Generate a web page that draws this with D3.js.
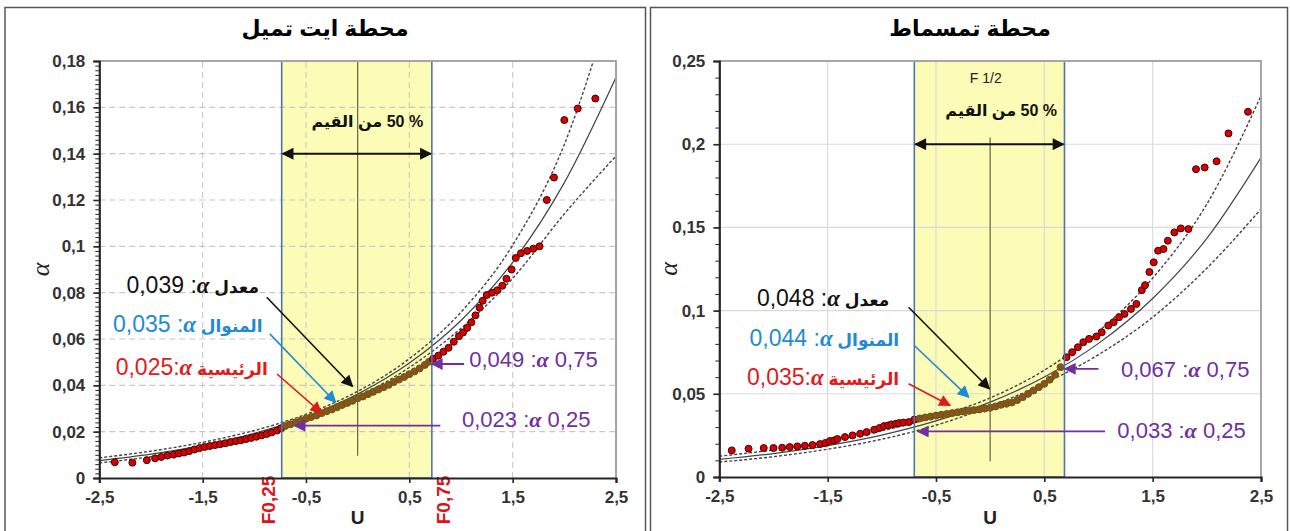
<!DOCTYPE html>
<html><head><meta charset="utf-8">
<script src="https://cdn.jsdelivr.net/npm/d3@7"></script>
<style>body{margin:0;background:#fff;} svg{display:block;}</style>
</head><body>
<svg id="c" width="1290" height="531"></svg>
<script>
// ---------------- data ----------------
const xTickValues = [-2.5,-1.5,-0.5,0.5,1.5,2.5];
const xTickLabels = ["-2,5","-1,5","-0,5","0,5","1,5","2,5"];
const leftYTickValues = [0,0.02,0.04,0.06,0.08,0.1,0.12,0.14,0.16,0.18];
const leftYTickLabels = ["0","0,02","0,04","0,06","0,08","0,1","0,12","0,14","0,16","0,18"];
const rightYTickValues = [0,0.05,0.1,0.15,0.2,0.25];
const rightYTickLabels = ["0","0,05","0,1","0,15","0,2","0,25"];

const leftTitle = "محطة ايت تميل";
const rightTitle = "محطة تمسماط";

const curveU = [-2.5,-2,-1.5,-1,-0.5,0,0.5,1,1.5,2,2.5];
const leftFit   = [.0075,.0103,.0141,.0193,.0264,.0362,.0496,.0680,.0931,.1275,.1730];
const leftUpper = [.0087,.0116,.0154,.0205,.0275,.0374,.0515,.0716,.1005,.1440,.2120];
const leftLower = [.0065,.0092,.0129,.0181,.0254,.0350,.0477,.0646,.0862,.1140,.1390];
const rightFit   = [.0106,.0141,.0189,.0252,.0337,.0450,.0601,.0803,.1073,.1434,.1920];
const rightUpper = [.0125,.0163,.0213,.0278,.0362,.0475,.0642,.0875,.1195,.1640,.2290];
const rightLower = [.0090,.0122,.0167,.0227,.0311,.0425,.0562,.0735,.0960,.1255,.1610];

const leftPoints = [
[-2.35,.0068],[-2.18,.0066],[-2.04,.0077],[-1.96,.0085],[-1.9,.0091],[-1.84,.0097],[-1.78,.0101],[-1.73,.0106],
[-1.68,.0110],[-1.63,.0116],[-1.58,.0123],[-1.53,.0129],[-1.48,.0134],[-1.43,.0138],[-1.38,.0142],[-1.33,.0146],
[-1.28,.0150],[-1.23,.0155],[-1.18,.0159],[-1.13,.0163],[-1.08,.0168],[-1.03,.0173],[-0.98,.0178],[-0.93,.0184],
[-0.88,.0190],[-0.83,.0197],[-0.78,.0205],[-0.74,.0215],
[-0.70,.0225],[-0.65,.0232],[-0.60,.0240],[-0.55,.0248],[-0.50,.0256],[-0.45,.0263],[-0.40,.0270],[-0.35,.0280],
[-0.30,.0288],[-0.25,.0296],[-0.20,.0305],[-0.15,.0315],[-0.10,.0324],[-0.05,.0333],[0,.0344],[0.05,.0352],
[0.10,.0362],[0.15,.0372],[0.20,.0382],[0.25,.0392],[0.30,.0402],[0.35,.0414],[0.40,.0425],[0.45,.0436],
[0.50,.0448],[0.55,.0460],[0.60,.0473],[0.65,.0488],[0.69,.0502],
[0.73,.0515],[0.78,.0528],[0.83,.0545],[0.88,.0562],[0.93,.0588],[0.98,.0612],[1.02,.0628],[1.06,.0648],
[1.10,.0672],[1.14,.0702],[1.18,.0735],[1.21,.0765],[1.25,.0790],[1.30,.0800],[1.35,.0810],[1.40,.0830],
[1.44,.0860],[1.49,.0900],[1.53,.0950],[1.58,.0970],[1.64,.0980],[1.70,.0990],[1.76,.1000],[1.83,.1200],
[1.90,.1297],[2.00,.1545],[2.13,.1595],[2.30,.1638]
];
const rightPoints = [
[-2.385,.0160],[-2.23,.0170],[-2.09,.0174],[-2.0,.0174],[-1.92,.0176],[-1.85,.0180],[-1.78,.0184],[-1.71,.0188],
[-1.64,.0192],[-1.57,.0198],[-1.52,.0205],[-1.48,.0216],[-1.44,.0220],[-1.41,.0228],[-1.34,.0240],[-1.27,.0250],
[-1.20,.0260],[-1.14,.0270],[-1.07,.0284],[-1.02,.0295],[-0.98,.0306],[-0.94,.0310],[-0.91,.0316],[-0.87,.0320],
[-0.84,.0324],[-0.80,.0327],[-0.75,.0330],[-0.70,.0345],
[-0.65,.0352],[-0.60,.0358],[-0.55,.0363],[-0.50,.0369],[-0.45,.0374],[-0.40,.0379],[-0.35,.0384],[-0.30,.0389],
[-0.25,.0394],[-0.20,.0398],[-0.15,.0402],[-0.10,.0406],[-0.05,.0411],[0,.0416],[0.05,.0424],[0.10,.0434],
[0.15,.0440],[0.20,.0448],[0.25,.0462],[0.30,.0480],[0.35,.0500],[0.40,.0520],[0.45,.0540],[0.50,.0560],
[0.55,.0585],[0.60,.0615],[0.65,.0660],
[0.705,.0720],[0.757,.0750],[0.81,.0780],[0.86,.0810],[0.913,.0830],[0.98,.0844],[1.03,.0870],[1.09,.0910],
[1.14,.0930],[1.19,.0960],[1.24,.0980],[1.30,.1010],[1.35,.1040],[1.40,.1123],[1.43,.1153],[1.47,.1232],
[1.51,.1290],[1.55,.1360],[1.60,.1370],[1.64,.1420],[1.70,.1470],[1.76,.1494],[1.83,.1490],[1.90,.1850],
[1.98,.1860],[2.09,.1897],[2.20,.2065],[2.38,.2195]
];

const leftQuartileU = [-0.735, 0.718];
const rightQuartileU = [-0.70, 0.686];

const leftNotes = [
  {num:"0,039 :", word:"معدل", color:"#111111", at:[-0.955,0.0823], from:[-0.88,0.078], to:[-0.05,0.0395]},
  {num:"0,035 :", word:"المنوال", color:"#1f8ad6", at:[-0.92,0.0655], from:[-0.85,0.0622], to:[-0.214,0.0327]},
  {num:"0,025:", word:"الرئيسية", color:"#e01b1b", at:[-0.87,0.047], from:[-0.78,0.0449], to:[-0.35,0.0281]}
];
const leftQNotes = [
  {num:"0,049 :", tail:" 0,75", at:[1.08,0.0514], from:[1.03,0.0492], to:[0.718,0.0492]},
  {num:"0,023 :", tail:" 0,25", at:[1.01,0.0255], from:[0.80,0.0226], to:[-0.61,0.0226]}
];
const rightNotes = [
  {num:"0,048 :", word:"معدل", color:"#111111", at:[-0.93,0.106], from:[-0.753,0.102], to:[-0.007,0.053]},
  {num:"0,044 :", word:"المنوال", color:"#1f8ad6", at:[-0.84,0.0824], from:[-0.70,0.079], to:[-0.198,0.048]},
  {num:"0,035:", word:"الرئيسية", color:"#e01b1b", at:[-0.84,0.059], from:[-0.753,0.056], to:[-0.37,0.043]}
];
const rightQNotes = [
  {num:"0,067 :", tail:" 0,75", at:[1.208,0.065], from:[1.0,0.065], to:[0.69,0.065]},
  {num:"0,033 :", tail:" 0,25", at:[1.174,0.028], from:[1.06,0.0274], to:[-0.667,0.0274]}
];
const rangeText = "من القيم\u200E 50 %";

// ---------------- drawing ----------------
const svg = d3.select("#c");
svg.append("rect").attr("width",1290).attr("height",531).attr("fill","#fff");
const defs = svg.append("defs");
const markerColors = {blk:"#111111", blue:"#1f8ad6", red:"#e01b1b", pur:"#7030a0"};
Object.entries(markerColors).forEach(([k,c])=>{
  defs.append("marker").attr("id","m-"+k).attr("viewBox","0 0 10 10").attr("refX",9).attr("refY",5)
    .attr("markerUnits","userSpaceOnUse").attr("markerWidth",13).attr("markerHeight",12)
    .attr("orient","auto-start-reverse")
    .append("path").attr("d","M0,0 L10,5 L0,10 z").attr("fill",c);
});
const colorKey = c => c==="#111111"?"blk":(c==="#1f8ad6"?"blue":(c==="#e01b1b"?"red":"pur"));

const SANS = "'Liberation Sans', Arial, 'DejaVu Sans', sans-serif";
const SERIF = "'Liberation Serif', 'DejaVu Serif', serif";

function drawPanel(p){
  const g = svg.append("g");
  const x = d3.scaleLinear().domain([-2.5,2.5]).range([p.x0,p.x1]);
  const y = d3.scaleLinear().domain([0,p.yMax]).range([p.y0,p.y1]);

  // frame
  g.append("rect").attr("x",p.fx0).attr("y",7.5).attr("width",p.fx1-p.fx0).attr("height",540)
    .attr("fill","#fff").attr("stroke","#555").attr("stroke-width",1.5);
  // title
  g.append("text").attr("x",p.titleX).attr("y",36).attr("text-anchor","middle")
    .attr("font-family",SANS).attr("font-weight","bold").attr("font-size",22).attr("fill","#000")
    .text(p.title);

  const clipId = "clip"+p.id;
  defs.append("clipPath").attr("id",clipId).append("rect")
    .attr("x",p.x0).attr("y",p.y1).attr("width",p.x1-p.x0).attr("height",p.y0-p.y1);

  // yellow band
  g.append("rect").attr("x",x(p.q[0])).attr("y",y(p.yMax)).attr("width",x(p.q[1])-x(p.q[0]))
    .attr("height",y(0)-y(p.yMax)).attr("fill","#fcfcb6");

  // gridlines
  const gridU = [-1.5,-0.5,0.5,1.5];
  const gg = g.append("g").attr("stroke",p.gridColor).attr("stroke-width",1.1)
    .attr("stroke-dasharray",p.gridDash);
  gg.selectAll("line.v").data(gridU).join("line").attr("x1",d=>x(d)).attr("x2",d=>x(d))
    .attr("y1",y(0)).attr("y2",y(p.yMax));
  gg.selectAll("line.h").data(p.yTicks.slice(1,-1)).join("line").attr("y1",d=>y(d)).attr("y2",d=>y(d))
    .attr("x1",p.x0).attr("x2",p.x1);

  // curves
  const cg = g.append("g").attr("clip-path",`url(#${clipId})`);
  const line = d3.line().x(d=>x(d[0])).y(d=>y(d[1])).curve(d3.curveMonotoneX);
  const mk = arr => curveU.map((u,i)=>[u,arr[i]]);
  cg.append("path").attr("d",line(mk(p.upper))).attr("fill","none").attr("stroke","#444")
    .attr("stroke-width",1.4).attr("stroke-dasharray","3,2");
  cg.append("path").attr("d",line(mk(p.lower))).attr("fill","none").attr("stroke","#444")
    .attr("stroke-width",1.4).attr("stroke-dasharray","3,2");
  cg.append("path").attr("d",line(mk(p.fit))).attr("fill","none").attr("stroke","#444")
    .attr("stroke-width",1.2);

  // points
  cg.selectAll("circle").data(p.points).join("circle")
    .attr("cx",d=>x(d[0])).attr("cy",d=>y(d[1])).attr("r",3.5)
    .attr("fill",d=> (d[0]>p.q[0] && d[0]<p.q[1]) ? "#8e5314" : "#d80000")
    .attr("stroke",d=> (d[0]>p.q[0] && d[0]<p.q[1]) ? "#5f5a22" : "#3a0808")
    .attr("stroke-width",1);

  // band border
  g.append("rect").attr("x",x(p.q[0])).attr("y",y(p.yMax)).attr("width",x(p.q[1])-x(p.q[0]))
    .attr("height",y(0)-y(p.yMax)).attr("fill","none").attr("stroke","#4f74b5").attr("stroke-width",1.6);

  // median line
  g.append("line").attr("x1",x(0)).attr("x2",x(0)).attr("y1",y(p.medTop)).attr("y2",y(p.medBottom))
    .attr("stroke","#66663a").attr("stroke-width",1.2);

  // double arrow
  g.append("line").attr("x1",x(p.q[0])+1).attr("x2",x(p.q[1])-1).attr("y1",y(p.arrowA)).attr("y2",y(p.arrowA))
    .attr("stroke","#111").attr("stroke-width",2)
    .attr("marker-start","url(#m-blk)").attr("marker-end","url(#m-blk)");
  g.append("text").attr("x",x(p.rangeTextU)).attr("y",y(p.rangeTextA)).attr("dy","0.35em")
    .attr("text-anchor","end").attr("font-family",SANS).attr("font-weight","bold").attr("font-size",16)
    .attr("fill","#111").text(rangeText);
  if(p.fHalf){
    g.append("text").attr("x",x(p.fHalf[0])).attr("y",y(p.fHalf[1])).attr("dy","0.35em")
      .attr("text-anchor","middle").attr("font-family",SANS).attr("font-size",14).attr("fill","#222")
      .text("F 1/2");
  }

  // annotations
  p.notes.forEach(n=>{
    g.append("line").attr("x1",x(n.from[0])).attr("y1",y(n.from[1])).attr("x2",x(n.to[0])).attr("y2",y(n.to[1]))
      .attr("stroke",n.color).attr("stroke-width",1.6).attr("marker-end",`url(#m-${colorKey(n.color)})`);
    const t = g.append("text").attr("x",x(n.at[0])).attr("y",y(n.at[1])).attr("dy","0.36em")
      .attr("text-anchor","end").attr("fill",n.color).attr("font-family",SANS);
    t.append("tspan").attr("font-size",23).text(n.num);
    t.append("tspan").attr("font-size",23).attr("font-family",SERIF).attr("font-style","italic")
      .attr("font-weight","bold").text("α");
    t.append("tspan").attr("font-size",17).attr("font-weight","bold").text(" "+n.word);
  });
  p.qNotes.forEach(n=>{
    g.append("line").attr("x1",x(n.from[0])).attr("y1",y(n.from[1])).attr("x2",x(n.to[0])).attr("y2",y(n.to[1]))
      .attr("stroke","#7030a0").attr("stroke-width",1.8).attr("marker-end","url(#m-pur)");
    const t = g.append("text").attr("x",x(n.at[0])).attr("y",y(n.at[1])).attr("dy","0.36em")
      .attr("text-anchor","start").attr("fill","#7030a0").attr("font-family",SANS).attr("font-size",22);
    t.append("tspan").text(n.num);
    t.append("tspan").attr("font-family",SERIF).attr("font-style","italic").attr("font-weight","bold").text("α");
    t.append("tspan").text(n.tail);
  });

  // F labels
  if(p.fLabels){
    [[p.q[0],-13,"F0,25"],[p.q[1],11,"F0,75"]].forEach(([u,off,s])=>{
      g.append("text").attr("transform",`translate(${x(u)+off},${p.fLabelY}) rotate(-90)`)
        .attr("text-anchor","middle").attr("dy","0.35em").attr("font-family",SANS).attr("font-weight","bold")
        .attr("font-size",19).attr("fill","#e0101a").text(s);
    });
  }

  // plot border (top/right gray)
  g.append("path").attr("d",`M${p.x0},${p.y1}H${p.x1}V${p.y0}`).attr("fill","none")
    .attr("stroke","#a6a6a6").attr("stroke-width",2);

  // axes
  const xa = g.append("g").attr("transform",`translate(0,${p.y0})`)
    .call(d3.axisBottom(x).tickValues(xTickValues).tickFormat((d,i)=>xTickLabels[i]).tickSize(5).tickPadding(8));
  const minor = d3.range(0, p.yMax + 1e-9, p.minorStep);
  g.append("g").attr("transform",`translate(${p.x0},0)`)
    .call(d3.axisLeft(y).tickValues(minor).tickFormat("").tickSize(4))
    .call(s=>s.select(".domain").remove());
  const ya = g.append("g").attr("transform",`translate(${p.x0},0)`)
    .call(d3.axisLeft(y).tickValues(p.yTicks).tickFormat((d,i)=>p.yLabels[i]).tickSize(6).tickPadding(8));
  [xa,ya].forEach(a=>{
    a.select(".domain").attr("stroke","#262626").attr("stroke-width",2.2);
    a.selectAll(".tick line").attr("stroke","#262626").attr("stroke-width",1.6);
    a.selectAll("text").attr("font-family",SANS).attr("font-weight","bold").attr("font-size",17).attr("fill","#333");
  });
  g.selectAll(".tick line").attr("stroke","#262626");

  // axis titles
  g.append("text").attr("x",(p.x0+p.x1)/2).attr("y",524).attr("text-anchor","middle")
    .attr("font-family",SANS).attr("font-weight","bold").attr("font-size",19).attr("fill","#222").text("U");
  g.append("text").attr("transform",`translate(${p.alphaX},${(p.y0+p.y1)/2}) rotate(-90)`)
    .attr("text-anchor","middle").attr("dy","0.35em").attr("font-family",SERIF).attr("font-style","italic")
    .attr("font-size",26).attr("fill","#222").text("α");
}

drawPanel({
  id:"L", fx0:5, fx1:645.5, titleX:325, title:leftTitle,
  x0:99.3, x1:616, y0:478, y1:61, yMax:0.18, minorStep:0.002,
  yTicks:leftYTickValues, yLabels:leftYTickLabels,
  gridColor:"#c8c8c8", gridDash:"6,4",
  fit:leftFit, upper:leftUpper, lower:leftLower, points:leftPoints,
  q:leftQuartileU, medTop:0.18, medBottom:0.0096, arrowA:0.14,
  rangeTextU:0.634, rangeTextA:0.154, fHalf:null,
  notes:leftNotes, qNotes:leftQNotes, fLabels:true, fLabelY:500, alphaX:40
});
drawPanel({
  id:"R", fx0:650.5, fx1:1287.5, titleX:970, title:rightTitle,
  x0:719.3, x1:1261, y0:477, y1:61, yMax:0.25, minorStep:0.01,
  yTicks:rightYTickValues, yLabels:rightYTickLabels,
  gridColor:"#d9d9d9", gridDash:null,
  fit:rightFit, upper:rightUpper, lower:rightLower, points:rightPoints,
  q:rightQuartileU, medTop:0.204, medBottom:0.0094, arrowA:0.2,
  rangeTextU:0.618, rangeTextA:0.2205, fHalf:[-0.04,0.24],
  notes:rightNotes, qNotes:rightQNotes, fLabels:false, alphaX:668
});
</script>
</body></html>
